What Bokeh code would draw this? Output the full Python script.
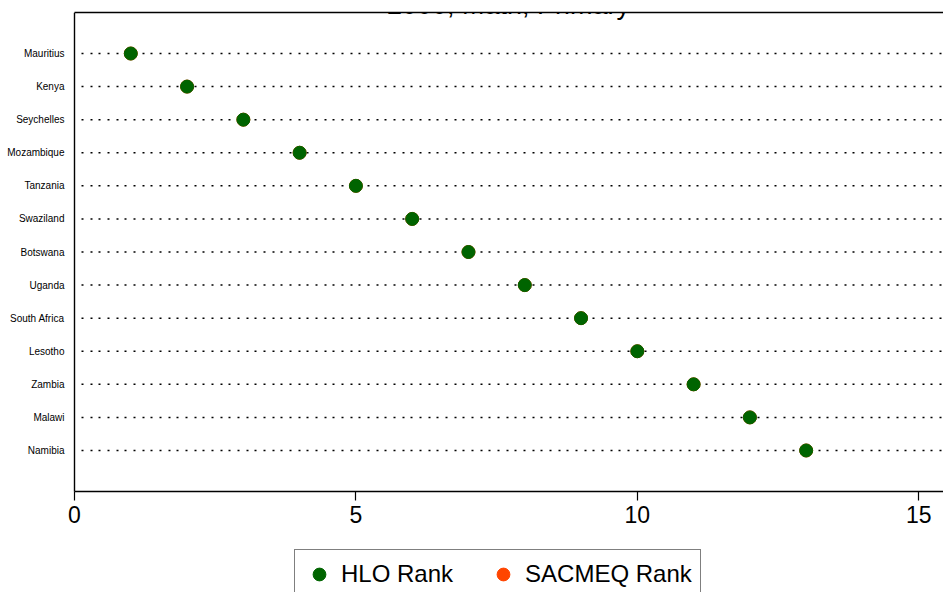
from bokeh.plotting import figure
from bokeh.models import (Range1d, FixedTicker, LinearAxis, Legend, LegendItem, Label)
from bokeh.embed import file_html
from bokeh.resources import INLINE

# ---- data ----
countries = ["Mauritius", "Kenya", "Seychelles", "Mozambique", "Tanzania", "Swaziland",
             "Botswana", "Uganda", "South Africa", "Lesotho", "Zambia", "Malawi", "Namibia"]
hlo_rank = [1, 2, 3, 4, 5, 6, 7, 8, 9, 10, 11, 12, 13]
sacmeq_rank = [1, 2, 3, 4, 5, 6, 7, 8, 9, 10, 11, 12, 13]
x_ticks = [0, 5, 10, 15]
title_text = "2000, Math, Primary"

n = len(countries)
ypos = [n - i for i in range(n)]  # top row first

FONT = "Liberation Sans"

# plot region geometry (data units); the frame extends left of x=0 for the
# country labels and below the x axis for the legend
x_low, x_high = 0, 15.44
px_per_x = 869 / (x_high - x_low)
x_frame_left = x_low - 74 / px_per_x

y_low, y_high = 1 - 1.24, n + 1.24
px_per_row = 479 / (y_high - y_low)
y_frame_bottom = y_high - 580 / px_per_row

p = figure(width=943, height=592, output_backend="svg", toolbar_location=None,
           x_range=Range1d(x_frame_left, x_high), y_range=Range1d(y_frame_bottom, y_high),
           min_border_left=0, min_border_bottom=0, min_border_top=12, min_border_right=0,
           outline_line_color=None)
p.background_fill_color = "white"
p.border_fill_color = "white"

# x axis (drawn at the bottom of the plot region)
xa = p.xaxis[0]
xa.fixed_location = y_low
xa.bounds = (x_low, x_high)
xa.ticker = FixedTicker(ticks=x_ticks)
xa.axis_line_color = "black"
xa.axis_line_width = 1.4
xa.major_tick_line_color = "black"
xa.major_tick_line_width = 1.2
xa.major_tick_out = 9
xa.major_tick_in = 0
xa.minor_tick_line_color = None
xa.minor_tick_out = 0
xa.major_label_text_font = FONT
xa.major_label_text_font_size = "23px"
xa.major_label_text_color = "black"
xa.major_label_standoff = 5

# y axis (drawn at x = 0)
ya = p.yaxis[0]
ya.fixed_location = x_low
ya.bounds = (y_low, y_high)
ya.ticker = FixedTicker(ticks=ypos)
ya.major_label_overrides = {y: c for y, c in zip(ypos, countries)}
ya.axis_line_color = "black"
ya.axis_line_width = 1.4
ya.major_tick_line_color = None
ya.minor_tick_line_color = None
ya.major_tick_out = 0
ya.major_tick_in = 0
ya.minor_tick_out = 0
ya.major_label_text_font = FONT
ya.major_label_text_font_size = "10px"
ya.major_label_text_color = "black"
ya.major_label_standoff = 10

# top frame line
top = LinearAxis(ticker=FixedTicker(ticks=[]), axis_line_color="black", axis_line_width=1.4,
                 major_tick_out=0, major_tick_in=0, minor_tick_out=0, minor_tick_in=0,
                 major_label_standoff=0, bounds=(x_low, x_high))
p.add_layout(top, "above")

# no grids; dotted guide lines for every country
p.xgrid.grid_line_color = None
p.ygrid.grid_line_color = None
p.segment(x0=[x_low] * n, y0=ypos, x1=[x_high] * n, y1=ypos,
          line_color="black", line_width=1.5, line_dash="2 7 2 7 2 6", line_dash_offset=2)

r_sac = p.scatter(sacmeq_rank, ypos, size=13, fill_color="#FF4500", line_color="#FF4500")
r_hlo = p.scatter(hlo_rank, ypos, size=13, fill_color="#006400", line_color="#006400")

legend = Legend(items=[LegendItem(label="HLO Rank", renderers=[r_hlo]),
                       LegendItem(label="SACMEQ Rank", renderers=[r_sac])],
                location=(294, -7), orientation="horizontal",
                label_text_font=FONT, label_text_font_size="24px", label_text_color="black",
                glyph_width=32, glyph_height=32, label_standoff=6, spacing=34,
                padding=8, margin=0,
                border_line_color="black", border_line_width=1.3,
                background_fill_color="white", background_fill_alpha=1.0)
p.add_layout(legend)

title = Label(x=7.71, y=y_high + 7.5 / px_per_row, text=title_text,
              text_align="center", text_baseline="alphabetic",
              text_font=FONT, text_font_size="27px", text_color="black")
p.add_layout(title)

open("out.html", "w").write(file_html(p, INLINE))
